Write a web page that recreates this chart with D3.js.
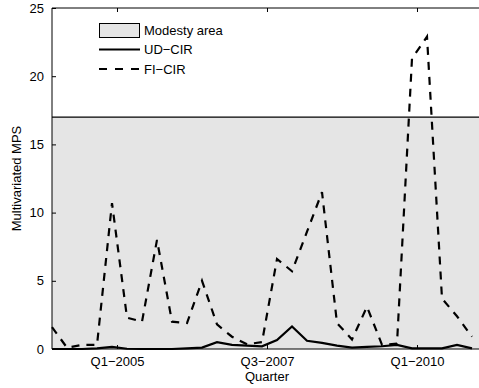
<!DOCTYPE html>
<html><head><meta charset="utf-8">
<script src="https://cdn.jsdelivr.net/npm/d3@7"></script>
<style>body{margin:0;background:#fff}svg{display:block}text{font-family:"Liberation Sans",Arial,Helvetica,sans-serif}</style>
</head><body><svg id="c" width="479" height="388"></svg>
<script>
const quarterIndex = d3.range(0, 29);
const fiCIR = [1.6,0.1,0.3,0.3,10.7,2.3,2.0,8.0,2.0,1.9,5.0,1.8,0.9,0.35,0.5,6.6,5.7,8.6,11.5,1.9,0.7,3.1,0.3,0.4,21.3,22.9,3.7,2.4,0.9];
const udCIR = [0.0,0.0,0.0,0.05,0.15,0.02,0.0,0.0,0.0,0.05,0.1,0.5,0.3,0.25,0.2,0.65,1.65,0.6,0.45,0.25,0.1,0.15,0.2,0.3,0.05,0.05,0.05,0.3,0.05];
const modestyLevel = 17;
const yTicks = [0,5,10,15,20,25];
const xTickPos = [4.333, 14.333, 24.333];
const xTickLabels = ["Q1\u22122005","Q3\u22122007","Q1\u22122010"];
const legendLabels = ["Modesty area","UD\u2212CIR","FI\u2212CIR"];

const svg = d3.select("#c");
const L = 52, T = 8, B = 349;
const x = d3.scaleLinear().domain([0, 29]).range([L, L + 15*29]);
const y = d3.scaleLinear().domain([0, 25]).range([B, T]);
const R = x(29);

// modesty area
svg.append("rect").attr("x", L).attr("y", y(modestyLevel)).attr("width", R - L).attr("height", B - y(modestyLevel)).attr("fill", "#e5e5e5");
svg.append("line").attr("x1", L).attr("x2", R).attr("y1", y(modestyLevel)).attr("y2", y(modestyLevel)).attr("stroke", "#000").attr("stroke-width", 1.2);

const line = d3.line().x((d,i)=>x(quarterIndex[i])).y(d=>y(d));
svg.append("path").datum(fiCIR).attr("d", line).attr("fill","none").attr("stroke","#000").attr("stroke-width",2.2).attr("stroke-dasharray","8,7");
svg.append("path").datum(udCIR).attr("d", line).attr("fill","none").attr("stroke","#000").attr("stroke-width",2.2);

// axes frame
svg.append("line").attr("x1",L).attr("x2",R).attr("y1",T).attr("y2",T).attr("stroke","#000");
svg.append("line").attr("x1",L).attr("x2",R).attr("y1",B).attr("y2",B).attr("stroke","#000");
svg.append("line").attr("x1",L).attr("x2",L).attr("y1",T).attr("y2",B).attr("stroke","#000");

const yAxis = d3.axisLeft(y).tickValues(yTicks).tickSizeInner(-4).tickSizeOuter(0).tickPadding(8);
const gy = svg.append("g").attr("transform",`translate(${L},0)`).call(yAxis);
gy.select(".domain").remove();
gy.selectAll("text").attr("font-size", 13).attr("fill","#000").attr("font-family","Liberation Sans, Arial, sans-serif");

const xAxisTop = d3.axisTop(x).tickValues(xTickPos).tickSizeInner(-4).tickSizeOuter(0).tickFormat("");
const gt = svg.append("g").attr("transform",`translate(0,${T})`).call(xAxisTop);
gt.select(".domain").remove();

const xAxis = d3.axisBottom(x).tickValues(xTickPos).tickSizeInner(-4).tickSizeOuter(0).tickPadding(8).tickFormat((d,i)=>xTickLabels[i]);
const gx = svg.append("g").attr("transform",`translate(0,${B})`).call(xAxis);
gx.select(".domain").remove();
gx.selectAll("text").attr("font-size", 13).attr("fill","#000").attr("font-family","Liberation Sans, Arial, sans-serif");

svg.append("text").attr("x", x(14.333)).attr("y", 381).attr("text-anchor","middle").attr("font-size",13).text("Quarter");
svg.append("text").attr("transform",`translate(21,${(T+B)/2}) rotate(-90)`).attr("text-anchor","middle").attr("font-size",13).text("Multivariated MPS");

// legend
const lg = svg.append("g");
lg.append("rect").attr("x",99.5).attr("y",23.5).attr("width",40).attr("height",14).attr("fill","#e5e5e5").attr("stroke","#000");
lg.append("line").attr("x1",99).attr("x2",140).attr("y1",49.5).attr("y2",49.5).attr("stroke","#000").attr("stroke-width",2.2);
lg.append("line").attr("x1",99).attr("x2",140).attr("y1",69).attr("y2",69).attr("stroke","#000").attr("stroke-width",2.2).attr("stroke-dasharray","8,8");
legendLabels.forEach((t,i)=>{
  lg.append("text").attr("x",144).attr("y",[30.5,49.5,69][i]).attr("dy","0.35em").attr("font-size",13).text(t);
});
</script></body></html>
